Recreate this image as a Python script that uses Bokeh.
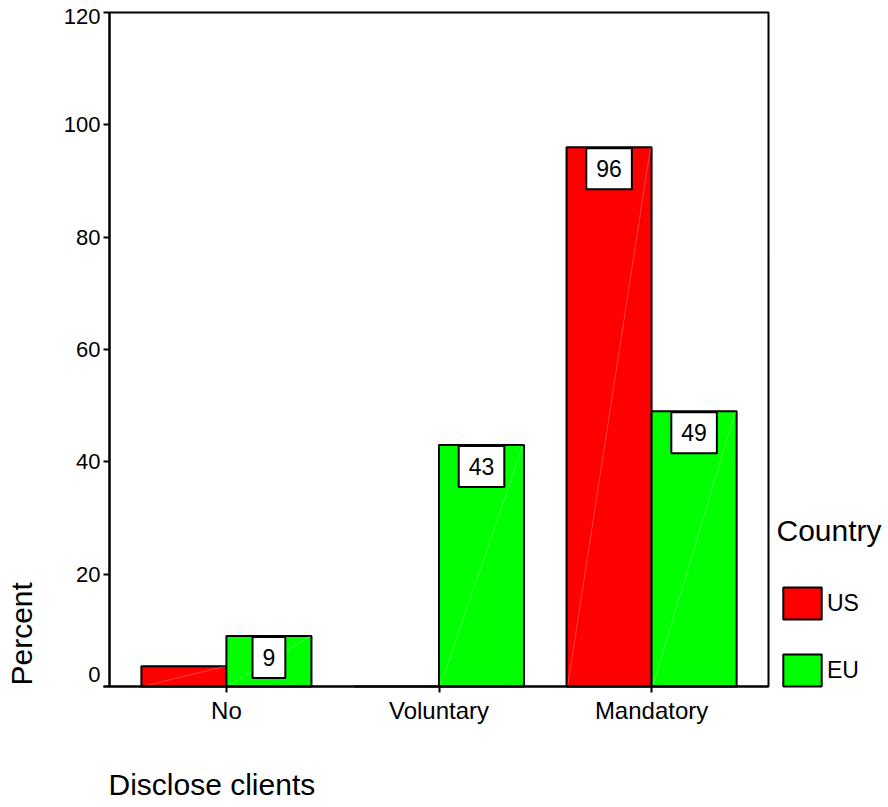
import math

from bokeh.plotting import figure
from bokeh.models import (Range1d, FixedTicker, Label, Legend, LegendItem,
                          ColumnDataSource, LinearAxis, BoxAnnotation)
from bokeh.embed import file_html
from bokeh.resources import INLINE

# Percent of firms by disclosure practice, per country
categories = ["No", "Voluntary", "Mandatory"]
countries = ["US", "EU"]
us_percent = [3.6, 0, 96]
eu_percent = [9, 43, 49]
us_labelled = [False, False, True]
eu_labelled = [True, True, True]
y_ticks = [0, 20, 40, 60, 80, 100, 120]

FONT = "Liberation Sans"
RED = "#ff0000"
GREEN = "#00ff00"
BAR_W = 0.4

# canvas and the pixel box the axes enclose
W, H = 888, 807
BOX_L, BOX_R, BOX_T, BOX_B = 109, 768, 12, 686
X_LO, X_HI = -0.55, 2.55
Y_LO, Y_HI = 0, 120
kx = (BOX_R - BOX_L) / (X_HI - X_LO)
ky = (BOX_B - BOX_T) / (Y_HI - Y_LO)

p = figure(width=W, height=H, output_backend="svg", toolbar_location=None,
           x_range=Range1d(X_LO - BOX_L / kx, X_HI + (W - BOX_R) / kx),
           y_range=Range1d(Y_LO - (H - BOX_B) / ky, Y_HI + BOX_T / ky),
           x_axis_location=None, y_axis_location=None, min_border=0)
p.grid.visible = False
p.outline_line_color = None
p.background_fill_color = "white"
p.border_fill_color = "white"

pos = list(range(len(categories)))
us_x = [i - BAR_W / 2 for i in pos]
eu_x = [i + BAR_W / 2 for i in pos]

us_src = ColumnDataSource(dict(x=us_x, top=us_percent))
eu_src = ColumnDataSource(dict(x=eu_x, top=eu_percent))

us_r = p.vbar(x="x", top="top", width=BAR_W, bottom=0, source=us_src,
              fill_color=RED, line_color="black", line_width=2)
eu_r = p.vbar(x="x", top="top", width=BAR_W, bottom=0, source=eu_src,
              fill_color=GREEN, line_color="black", line_width=2)

# faint diagonal sheen across each filled bar
diag_x0, diag_x1, diag_y1 = [], [], []
for xs, vals in ((us_x, us_percent), (eu_x, eu_percent)):
    for xc, v in zip(xs, vals):
        if v > 0:
            diag_x0.append(xc - BAR_W / 2 + 0.005)
            diag_x1.append(xc + BAR_W / 2 - 0.005)
            diag_y1.append(v)
p.segment(x0=diag_x0, y0=[0] * len(diag_x0), x1=diag_x1, y1=diag_y1,
          line_color="white", line_alpha=0.25, line_width=1)

# frame around the plotting area
p.add_layout(BoxAnnotation(left=X_LO, right=X_HI, bottom=Y_LO, top=Y_HI,
                           fill_alpha=0, line_color="black", line_alpha=1,
                           line_width=2))

# value boxes hanging just under the bar tops
for xs, vals, shown in ((us_x, us_percent, us_labelled),
                        (eu_x, eu_percent, eu_labelled)):
    for xc, v, s in zip(xs, vals, shown):
        if not s:
            continue
        p.add_layout(Label(x=xc, y=v, text=str(round(v)), text_align="center",
                           text_baseline="top", y_offset=-1,
                           text_font=FONT, text_font_size="23px",
                           text_color="black",
                           background_fill_color="white",
                           border_line_color="black", border_line_width=2,
                           padding=(10, 12)))

# axes pinned to the edges of the plotting area
yax = LinearAxis(fixed_location=X_LO, bounds=(Y_LO, Y_HI),
                 ticker=FixedTicker(ticks=y_ticks))
yax.major_label_overrides = {y_ticks[0]: "", y_ticks[-1]: ""}
yax.major_tick_out = 6
yax.major_tick_in = 0
yax.minor_tick_line_color = None
yax.axis_line_width = 2
yax.major_tick_line_width = 2
yax.major_label_standoff = 3
yax.major_label_text_font = FONT
yax.major_label_text_font_size = "22px"
yax.major_label_text_color = "black"
p.add_layout(yax, "left")

xax = LinearAxis(fixed_location=Y_LO, bounds=(X_LO - 6 / kx, X_HI),
                 ticker=FixedTicker(ticks=pos))
xax.major_label_overrides = {i: c for i, c in zip(pos, categories)}
xax.major_tick_out = 6
xax.major_tick_in = 0
xax.minor_tick_line_color = None
xax.axis_line_width = 2
xax.major_tick_line_width = 2
xax.major_label_standoff = 4
xax.major_label_text_font = FONT
xax.major_label_text_font_size = "24px"
xax.major_label_text_color = "black"
p.add_layout(xax, "below")

# end labels nudged inward so they stay clear of the frame corners
for tick, sy in ((y_ticks[0], 674), (y_ticks[-1], 16)):
    p.add_layout(Label(x=BOX_L - 9, y=H - sy, x_units="screen",
                       y_units="screen", text=str(tick), text_align="right",
                       text_baseline="middle", text_font=FONT,
                       text_font_size="22px", text_color="black"))

# axis titles, flush with the start of each axis
p.add_layout(Label(x=21, y=H - 685, x_units="screen", y_units="screen",
                   text="Percent", angle=math.pi / 2, text_align="left",
                   text_baseline="alphabetic", text_font=FONT,
                   text_font_size="30px", text_color="black"))
p.add_layout(Label(x=BOX_L - 1, y=H - 784, x_units="screen", y_units="screen",
                   text="Disclose clients", text_align="left",
                   text_baseline="alphabetic", text_font=FONT,
                   text_font_size="30px", text_color="black"))

# legend
p.add_layout(Label(x=776, y=H - 530, x_units="screen", y_units="screen",
                   text="Country", text_align="left",
                   text_baseline="alphabetic", text_font=FONT,
                   text_font_size="30px", text_color="black"))
legend = Legend(items=[LegendItem(label=countries[0], renderers=[us_r]),
                       LegendItem(label=countries[1], renderers=[eu_r])],
                location=(778, H - 690), glyph_width=48, glyph_height=40,
                spacing=27, label_standoff=1, padding=0, margin=0,
                border_line_color=None, background_fill_alpha=0,
                label_text_font=FONT, label_text_font_size="23px",
                label_text_color="black")
p.add_layout(legend)

open("out.html", "w").write(file_html(p, INLINE))
